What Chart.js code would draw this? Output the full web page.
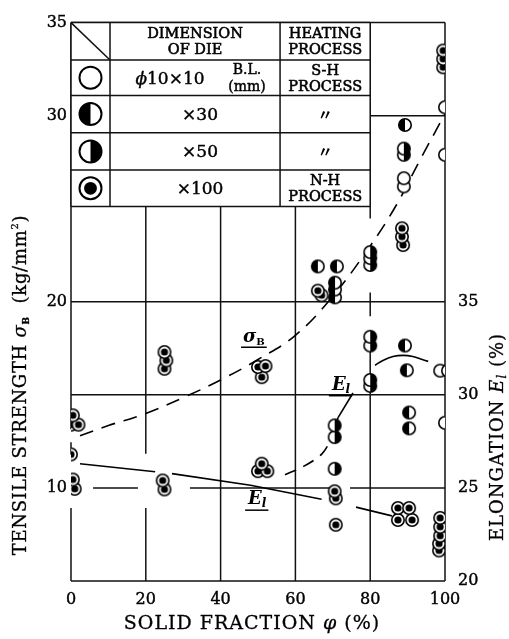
<!DOCTYPE html>
<html><head><meta charset="utf-8">
<script src="https://cdn.jsdelivr.net/npm/chart.js@4.4.0/dist/chart.umd.min.js"></script>
<style>html,body{margin:0;padding:0;background:#fff;}canvas{display:block;}</style>
</head><body>
<canvas id="c" width="509" height="639"></canvas>
<script>
// ---------- tick labels ----------
const xTicks = [0, 20, 40, 60, 80, 100];
const leftTicks = [10, 20, 30, 35];
const rightTicks = [20, 25, 30, 35];

// ---------- tensile strength sigma_B (kg/mm2), left axis: [solid fraction %, value] ----------
const sigmaNH100 = [[0,13.4],[2,13.4],[0.5,13.9],[25,16.4],[25.5,16.85],[25,17.3],[51,15.95],[50,16.5],[52,16.55],[67,20.35],[66,20.6],[88.8,23.05],[88.5,23.5],[88.5,23.95],[99.5,32.6],[99.5,33.05],[99.5,33.5]];
const sigmaSH30 = [[66,21.9],[71.1,21.9],[70.6,20.24],[70.6,20.66],[70.6,21.03],[89.3,29.5]];
const sigmaSH50 = [[80,21.98],[80,22.35],[80,22.67],[89,27.9],[89,28.23]];
const sigmaSH10 = [[89,26.2],[89,26.64],[100,27.9],[100,30.45],[100.5,31.0]];

// ---------- elongation E_l (%), right axis ----------
const elongNH100 = [[0,26.8],[1,24.95],[0.5,25.45],[25,24.92],[24.5,25.4],[50,25.9],[52.5,25.9],[51,26.3],[70.8,23.02],[70.8,24.44],[70.5,24.82],[87.4,23.28],[91.2,23.28],[87.4,23.92],[90.4,23.92],[98.4,21.64],[98.4,22.01],[98.7,22.43],[98.7,22.91],[98.7,23.39]];
const elongSH30 = [[89.3,32.65],[89.8,31.32],[90.4,28.2],[90.4,29.05]];
const elongSH50 = [[70.5,26.03],[70.5,27.73],[70.5,28.36],[80,30.48],[80,30.8],[80,32.65],[80,33.12]];
const elongSH10 = [[98.7,31.3],[100.8,31.3],[100,28.5]];

// ---------- fitted curves ----------
const sigmaCurve = [[2.4,12.8],[10,13.35],[20,14.0],[30,14.85],[40,15.8],[50,16.9],[60,18.2],[70,20.3],[80,23.0],[87,25.2],[93,27.5],[100,30.1]];
const elongLine = [[2.4,26.3],[22.5,25.87],null,[27,25.77],[48,25.14],[67,24.39],null,[76.2,23.97],[85.8,23.5]];
const elongDash = [[57.2,25.71],[62,26.14],[67.1,26.83],[70,27.83],[71.4,28.78]];
const elongSolid = [[71.4,28.78],[75.4,30.1]];
const elongArc = [[81.3,31.59],[83.4,31.85],[86.1,32.06],[88.8,32.12],[91.4,32.06],[93.9,31.9],[95.5,31.8]];

// ---------- helpers ----------
const SERIF = '"DejaVu Serif", serif';
function pts(a){ return a.map(p => p ? {x:p[0], y:p[1]} : {x:null, y:null}); }
function drawMarker(ctx, type, x, y, r, lw){
  ctx.save();
  ctx.lineWidth = lw; ctx.strokeStyle = '#000'; ctx.fillStyle = '#fff';
  ctx.beginPath(); ctx.arc(x, y, r, 0, Math.PI*2); ctx.fill();
  ctx.fillStyle = '#000';
  if (type === 'halfL'){ ctx.beginPath(); ctx.arc(x, y, r, Math.PI/2, Math.PI*1.5); ctx.closePath(); ctx.fill(); }
  if (type === 'halfR'){ ctx.beginPath(); ctx.arc(x, y, r, -Math.PI/2, Math.PI/2); ctx.closePath(); ctx.fill(); }
  if (type === 'dot'){ ctx.beginPath(); ctx.arc(x, y, r*0.58, 0, Math.PI*2); ctx.fill(); }
  ctx.beginPath(); ctx.arc(x, y, r, 0, Math.PI*2); ctx.stroke();
  ctx.restore();
}
function markerCanvas(type){
  const c = document.createElement('canvas'); c.width = 16; c.height = 16;
  drawMarker(c.getContext('2d'), type, 8, 8, 6.2, 1.6);
  return c;
}
const M = {open: markerCanvas('open'), halfL: markerCanvas('halfL'), halfR: markerCanvas('halfR'), dot: markerCanvas('dot')};

function drawRuns(ctx, runs, cx, baseY, spacing, stroke){
  ctx.save();
  if ('letterSpacing' in ctx) ctx.letterSpacing = (spacing || 0) + 'px';
  let w = 0;
  for (const r of runs){ ctx.font = r.f; r.w = ctx.measureText(r.t).width; w += r.w; }
  let x = cx - w/2;
  ctx.textAlign = 'left'; ctx.textBaseline = 'alphabetic'; ctx.fillStyle = '#000'; ctx.strokeStyle = '#000';
  ctx.lineWidth = stroke || 0;
  for (const r of runs){
    ctx.font = r.f; ctx.fillText(r.t, x, baseY + (r.dy || 0));
    if (stroke) ctx.strokeText(r.t, x, baseY + (r.dy || 0));
    x += r.w;
  }
  ctx.restore();
  return w;
}

function scatterSet(data, style, axis){
  return {data: pts(data), yAxisID: axis, pointStyle: style, pointRadius: 6, showLine: false, order: 0};
}
function lineSet(data, axis, dash, tension){
  return {data: pts(data), yAxisID: axis, showLine: true, pointRadius: 0, borderColor: '#000', borderWidth: 1.6,
          borderDash: dash || [], tension: tension || 0, spanGaps: false, order: 10, fill: false};
}

// grid line segments (value ranges, left-axis units for y)
const vGrid = [
  {x: 0,   s: [[35,13.15],[12.46,11.8],[8.92,5]]},
  {x: 20,  s: [[25.12,11.83],[8.92,5]]},
  {x: 40,  s: [[25.12,5]]},
  {x: 60,  s: [[25.12,5]]},
  {x: 80,  s: [[35,24.47],[20.5,19.23],[17.33,16.06],[15.21,5]]},
  {x: 100, s: [[35,5]]}
];
const hGrid = [
  {y: 35, s: [[0,100]]},
  {y: 30, s: [[80,100]]},
  {y: 20, s: [[0,100]]},
  {y: 15, s: [[0,100]]},
  {y: 10, s: [[5.9,17.9],[31.8,69.3],[74.6,100]]},
  {y: 5,  s: [[0,100]]}
];

const paper = {
  id: 'paper',
  beforeDatasetsDraw(chart){
    const ctx = chart.ctx, X = chart.scales.x, Y = chart.scales.y;
    const px = v => X.getPixelForValue(v), py = v => Y.getPixelForValue(v);
    ctx.save();
    ctx.strokeStyle = '#111'; ctx.lineWidth = 1.5;
    const seg = (a,b,c,d) => { ctx.beginPath(); ctx.moveTo(a,b); ctx.lineTo(c,d); ctx.stroke(); };
    for (const g of vGrid) for (const s of g.s) seg(px(g.x), py(s[0]), px(g.x), py(s[1]));
    for (const g of hGrid) for (const s of g.s) seg(px(s[0]), py(g.y), px(s[1]), py(g.y));

    // legend table
    const cols = [0, 10.43, 55.9, 80].map(px);
    const rows = [35, 32.99, 31.09, 29.08, 27.08, 25.12].map(py);
    ctx.fillStyle = '#fff';
    ctx.fillRect(cols[0], rows[0], cols[3]-cols[0], rows[5]-rows[0]);
    for (const r of rows) seg(cols[0], r, cols[3], r);
    for (const c of cols) seg(c, rows[0], c, rows[5]);
    seg(cols[0], rows[0], cols[1], rows[1]);

    const c0 = (cols[0]+cols[1])/2, c1 = (cols[1]+cols[2])/2, c2 = (cols[2]+cols[3])/2;
    const mid = i => (rows[i]+rows[i+1])/2;
    const fH = '14.5px ' + SERIF, fB = '17px ' + SERIF, fS = '14px ' + SERIF;
    const sw = 0.55;
    drawRuns(ctx, [{t:'DIMENSION', f:fH}], c1, rows[0]+15.5, 0, sw);
    drawRuns(ctx, [{t:'OF DIE', f:fH}], c1, rows[0]+31.5, 0, sw);
    drawRuns(ctx, [{t:'HEATING', f:fH}], c2, rows[0]+15.5, 0, sw);
    drawRuns(ctx, [{t:'PROCESS', f:fH}], c2, rows[0]+31.5, 0, sw);

    drawMarker(ctx, 'open',  c0, mid(1), 11, 2);
    drawMarker(ctx, 'halfL', c0, mid(2), 11, 2);
    drawMarker(ctx, 'halfR', c0, mid(3), 11, 2);
    drawMarker(ctx, 'dot',   c0, mid(4), 11, 2);

    // row 1
    drawRuns(ctx, [{t:'\u03d5', f:'italic 17px ' + SERIF}, {t:'10\u00d710', f:fB}], cols[1]+60, mid(1)+6, 0, 0.4);
    drawRuns(ctx, [{t:'B.L.', f:fS}], cols[1]+137, mid(1)-4, 0, 0.45);
    drawRuns(ctx, [{t:'(mm)', f:fS}], cols[1]+137, mid(1)+13, 0, 0.45);
    drawRuns(ctx, [{t:'S-H', f:fH}], c2, mid(1)-3, 0, sw);
    drawRuns(ctx, [{t:'PROCESS', f:fH}], c2, mid(1)+13, 0, sw);
    // rows 2-4
    drawRuns(ctx, [{t:'\u00d730', f:fB}], c1+5, mid(2)+6, 0, 0.4);
    drawRuns(ctx, [{t:'\u00d750', f:fB}], c1+5, mid(3)+6, 0, 0.4);
    drawRuns(ctx, [{t:'\u00d7100', f:fB}], c1+5, mid(4)+6, 0, 0.4);
    drawRuns(ctx, [{t:'\u3003', f:'bold 15px "Noto Sans CJK JP"'}], c2, mid(2)+6, 0, 0);
    drawRuns(ctx, [{t:'\u3003', f:'bold 15px "Noto Sans CJK JP"'}], c2, mid(3)+6, 0, 0);
    drawRuns(ctx, [{t:'N-H', f:fH}], c2, mid(4)-3, 0, sw);
    drawRuns(ctx, [{t:'PROCESS', f:fH}], c2, mid(4)+13, 0, sw);
    ctx.restore();
  },
  afterDatasetsDraw(chart){
    const ctx = chart.ctx, X = chart.scales.x, Y = chart.scales.y;
    const px = v => X.getPixelForValue(v), py = v => Y.getPixelForValue(v);
    ctx.save();
    const under = (x1, x2, y) => { ctx.strokeStyle = '#000'; ctx.lineWidth = 1.5; ctx.beginPath(); ctx.moveTo(x1, y); ctx.lineTo(x2, y); ctx.stroke(); };
    // sigma_B label
    let cx = px(48.9), by = py(18.15) + 6;
    let w = drawRuns(ctx, [{t:'\u03c3', f:'italic bold 18px ' + SERIF}, {t:'B', f:'bold 10px ' + SERIF, dy:3}], cx, by, 0);
    under(cx - w/2 - 2, cx + w/2 + 2, by + 5);
    // E_l labels
    const el = (vx, vy) => {
      const cxx = px(vx), byy = py(vy) + 6;
      const ww = drawRuns(ctx, [{t:'E', f:'italic bold 18px ' + SERIF}, {t:'l', f:'italic bold 12px ' + SERIF, dy:3}], cxx, byy, 0);
      under(cxx - ww/2 - 3, cxx + ww/2 + 2, byy + 6);
    };
    el(72.2, 15.6);
    el(49.8, 9.45);
    ctx.restore();
  },
  afterDraw(chart){
    const ctx = chart.ctx;
    const f = '18px ' + SERIF;
    // bottom title
    drawRuns(ctx, [{t:'SOLID FRACTION ', f:'19px ' + SERIF}, {t:'\u03c6', f:'italic 19px ' + SERIF}, {t:' (%)', f:'19px ' + SERIF}], 252, 629, 1, 0.3);
    // left title
    ctx.save(); ctx.translate(26, 385); ctx.rotate(-Math.PI/2);
    drawRuns(ctx, [{t:'TENSILE STRENGTH ', f:f}, {t:'\u03c3', f:'italic 18px ' + SERIF}, {t:'B', f:'bold 9px ' + SERIF, dy:3},
                   {t:'  (kg/mm', f:f}, {t:'2', f:'10px ' + SERIF, dy:-8}, {t:')', f:f}], 0, 0, 0.7, 0.3);
    ctx.restore();
    // right title
    ctx.save(); ctx.translate(503, 437); ctx.rotate(-Math.PI/2);
    drawRuns(ctx, [{t:'ELONGATION ', f:f}, {t:'E', f:'italic 18px ' + SERIF}, {t:'l', f:'italic 12px ' + SERIF, dy:3}, {t:' (%)', f:f}], 0, 0, 1, 0.3);
    ctx.restore();
  }
};

const tickFont = {family: SERIF, size: 16};
const tickOpts = pad => ({font: tickFont, color: '#000', padding: pad, autoSkip: false, maxRotation: 0,
                          textStrokeColor: '#000', textStrokeWidth: 0.4});
const setTicks = arr => s => { s.ticks = arr.map(v => ({value: v})); };

new Chart(document.getElementById('c').getContext('2d'), {
  type: 'scatter',
  data: {datasets: [
    scatterSet(sigmaNH100, M.dot, 'y'),
    scatterSet(sigmaSH30, M.halfL, 'y'),
    scatterSet(sigmaSH50, M.halfR, 'y'),
    scatterSet(sigmaSH10, M.open, 'y'),
    scatterSet(elongNH100, M.dot, 'y1'),
    scatterSet(elongSH30, M.halfL, 'y1'),
    scatterSet(elongSH50, M.halfR, 'y1'),
    scatterSet(elongSH10, M.open, 'y1'),
    lineSet(sigmaCurve, 'y', [14, 9], 0.4),
    lineSet(elongLine, 'y1', [], 0),
    lineSet(elongDash, 'y1', [12, 8], 0.3),
    lineSet(elongSolid, 'y1', [], 0),
    lineSet(elongArc, 'y1', [], 0.4)
  ]},
  options: {
    responsive: false, animation: false, devicePixelRatio: 1, events: [],
    layout: {padding: {top: 13, left: 0, right: 0, bottom: 0}},
    plugins: {legend: {display: false}, tooltip: {enabled: false}},
    scales: {
      x: {type: 'linear', min: 0, max: 100, afterBuildTicks: setTicks(xTicks),
          grid: {display: false, drawTicks: false}, border: {display: false},
          ticks: tickOpts(9), afterFit: s => { s.height = 58; }},
      y: {type: 'linear', position: 'left', min: 5, max: 35, afterBuildTicks: setTicks(leftTicks),
          grid: {display: false, drawTicks: false}, border: {display: false},
          ticks: tickOpts(4), afterFit: s => { s.width = 71; }},
      y1: {type: 'linear', position: 'right', min: 20, max: 50, afterBuildTicks: setTicks(rightTicks),
          grid: {display: false, drawTicks: false}, border: {display: false},
          ticks: tickOpts(13), afterFit: s => { s.width = 64; }}
    }
  },
  plugins: [paper]
});
</script>
</body></html>
